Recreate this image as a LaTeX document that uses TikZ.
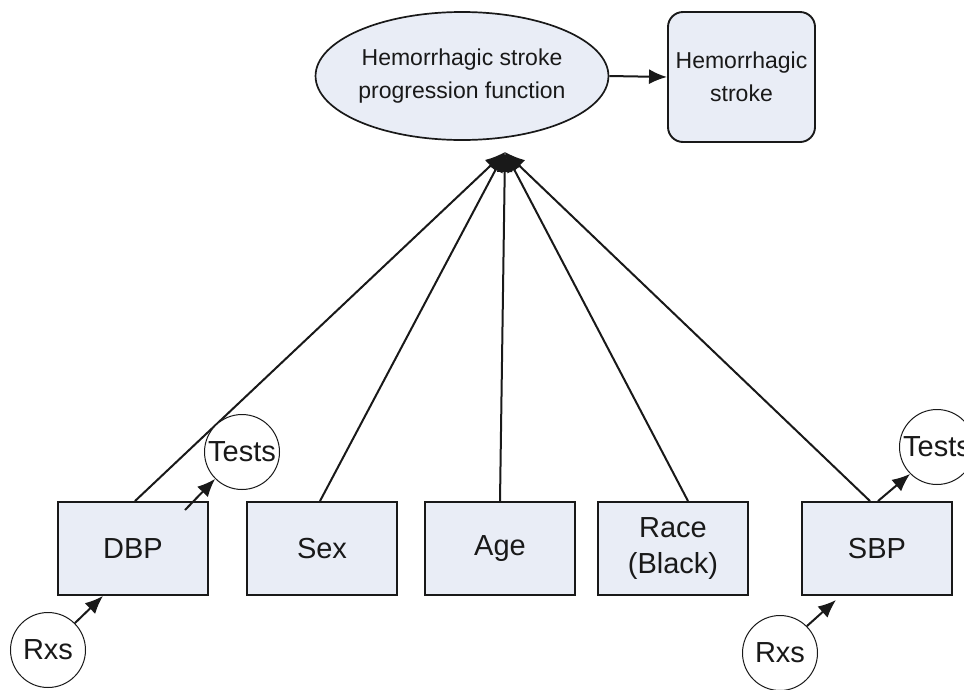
\documentclass[tikz,border=0pt]{standalone}
\usepackage{fontspec}
\setmainfont{Liberation Sans}
\usetikzlibrary{shapes.geometric,arrows.meta}
\definecolor{nodefill}{RGB}{233,237,246}
\definecolor{edge}{RGB}{25,25,25}
\begin{document}
\begin{tikzpicture}[x=1pt,y=-1pt,
  lbl/.style={font=\fontsize{23}{33}\selectfont, align=center, text=edge},
  biglbl/.style={font=\fontsize{29}{36}\selectfont, align=center, text=edge},
  varbox/.style={biglbl, draw=edge, line width=1.9pt, fill=nodefill,
    minimum width=150pt, minimum height=93pt, inner sep=0pt},
  outbox/.style={lbl, draw=edge, line width=1.9pt, fill=nodefill,
    rounded corners=15pt, minimum width=147pt, minimum height=130pt, inner sep=0pt},
  fnnode/.style={lbl, ellipse, draw=edge, line width=1.7pt, fill=nodefill,
    minimum width=264pt, minimum height=128pt, inner sep=0pt},
  aux/.style={biglbl, circle, draw=edge, line width=1pt, fill=white,
    minimum size=75pt, inner sep=0pt},
  link/.style={draw=edge, line width=2pt},
  conn/.style={link, -{Latex[length=18pt,width=15pt]}},
  feed/.style={link, -{Latex[length=20pt,width=16pt]}}
]
\useasboundingbox (0,0) rectangle (964,689);
\clip (0,0) rectangle (964,689);

% outcome part
\node[fnnode] (fn) at (462,76) {Hemorrhagic stroke\\progression function};
\node[outbox] (hs) at (741.5,77) {Hemorrhagic\\stroke};
\draw[conn] (fn.east) -- (hs.west);

% risk factors
\node[varbox] (dbp)  at (133,548.5) {DBP};
\node[varbox] (sex)  at (322,548.5) {Sex};
\node[varbox] (age)  at (500,548.5) {Age};
\node[varbox] (race) at (673,548.5) {Race\\(Black)};
\node[varbox] (sbp)  at (877,548.5) {SBP};

% all factors feed the progression function
\coordinate (hub) at (505,152);
\draw[feed] ([xshift=2pt]dbp.north) -- (hub);
\draw[feed] ([xshift=-2pt]sex.north) -- (hub);
\draw[feed] (age.north) -- (hub);
\draw[feed] ([xshift=15pt]race.north) -- (hub);
\draw[feed] ([xshift=-7pt]sbp.north) -- (hub);

% tests and treatments
\node[aux] (tl) at (242,452) {Tests};
\node[aux] (tr) at (937,447) {Tests};
\node[aux] (rl) at (48,650) {Rxs};
\node[aux] (rr) at (780,653) {Rxs};

\coordinate (tlstart) at (185,510);
\draw[conn] (tlstart) -- (tl.225);
\draw[conn] ([xshift=1pt]sbp.north) -- (tr.225);
\draw[conn] (rl.45) -- ([xshift=-30pt]dbp.south);
\coordinate (rrend) at (836,600);
\draw[conn] (rr.45) -- (rrend);
\end{tikzpicture}
\end{document}
